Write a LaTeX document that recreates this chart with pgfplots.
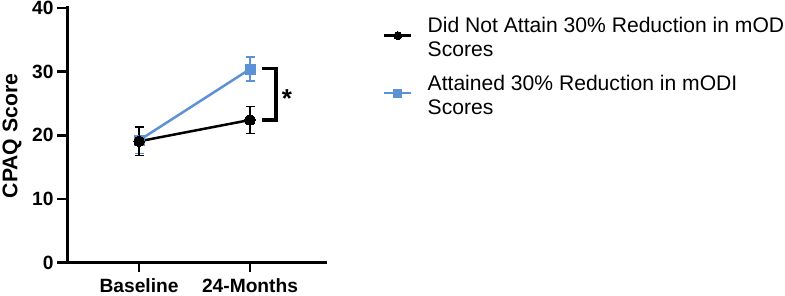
\documentclass[border=0pt]{standalone}
\usepackage{fontspec}
\setmainfont{Liberation Sans}
\usepackage{pgfplots}
\pgfplotsset{compat=1.18}
\definecolor{cblue}{RGB}{92,145,214}
\begin{document}
\begin{tikzpicture}[x=1pt,y=1pt]
\path[use as bounding box] (0,0) rectangle (785,296);
\begin{axis}[
  at={(67pt,33.5pt)}, anchor=south west,
  scale only axis, width=258pt, height=254.5pt,
  xmin=-0.65, xmax=1.676, ymin=0, ymax=40,
  axis lines=left,
  axis line style={-, line width=3pt, line cap=rect},
  xtick={0,1}, xticklabels={Baseline,24-Months},
  ytick={0,10,20,30,40},
  tick align=outside, major tick length=10pt,
  tick style={line width=2.6pt, black},
  ticklabel style={font=\fontsize{19.2}{19.2}\selectfont\bfseries},
  xticklabel style={yshift=-2.5pt},
  /pgf/number format/assume math mode=true,
  ylabel={CPAQ Score},
  every axis y label/.style={at={(axis description cs:-0.213,0.497)}, rotate=90, anchor=center, font=\fontsize{21.2}{21.2}\selectfont\bfseries},
  clip=false,
  reverse legend,
  legend cell align=left,
  legend style={at={(axis description cs:1.2248,0.9705)}, anchor=north west, draw=none, fill=none, inner sep=0pt, nodes={inner sep=0pt, text height=17pt, text depth=31pt}, row sep=9.5pt, column sep=15pt, font=\fontsize{21.1}{24}\selectfont},
  legend image code/.code={\draw[mark repeat=2, mark phase=2, #1, mark size=4pt] plot coordinates {(0pt,4pt) (13.5pt,4pt) (27pt,4pt)};},
]
\addplot[cblue, line width=2.5pt, mark=square*, mark size=5pt,
  mark options={solid, fill=cblue, draw=cblue, line width=0pt},
  error bars/.cd, y dir=both, y explicit,
  error bar style={line width=1.5pt, cblue},
  error mark options={rotate=90, mark size=4.5pt, line width=1.5pt, cblue}]
  coordinates {(0,19.2) +- (0,2.1) (1,30.4) +- (0,1.9)};
\addlegendentry{\begin{tabular}[t]{@{}l@{}}Attained 30\% Reduction in mODI\\Scores\end{tabular}}
\addplot[black, line width=2.5pt, mark=*, mark size=5.3pt,
  mark options={solid, fill=black, draw=black, line width=0pt},
  error bars/.cd, y dir=both, y explicit,
  error bar style={line width=1.5pt, black},
  error mark options={rotate=90, mark size=4.5pt, line width=1.5pt, black}]
  coordinates {(0,19.05) +- (0,2.25) (1,22.4) +- (0,2.1)};
\addlegendentry{\begin{tabular}[t]{@{}l@{}}Did Not Attain 30\% Reduction in mODI\\Scores\end{tabular}}
\draw[line width=3.5pt, black, miter limit=10] (axis cs:1.108,30.5) -- (axis cs:1.234,30.5) -- (axis cs:1.234,22.4) -- (axis cs:1.108,22.4);
\node[font=\fontsize{26}{26}\selectfont\bfseries, yshift=-5pt] at (axis cs:1.333,26.6) {*};
\end{axis}
\end{tikzpicture}
\end{document}
